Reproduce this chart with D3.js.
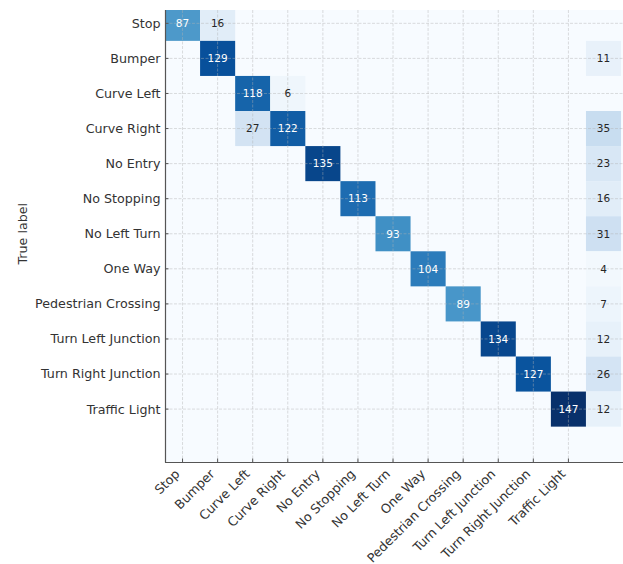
<!DOCTYPE html>
<html>
<head>
<meta charset="utf-8">
<script src="https://cdn.jsdelivr.net/npm/d3@7"></script>
<style>
  body { margin: 0; background: #fff; }
  text { font-family: "DejaVu Sans", sans-serif; }
</style>
</head>
<body>
<div id="chart"></div>
<script>
// class names (rows = true label, columns = predicted label; last column/row unlabeled)
var classes = ["Stop", "Bumper", "Curve Left", "Curve Right", "No Entry", "No Stopping",
  "No Left Turn", "One Way", "Pedestrian Crossing", "Turn Left Junction",
  "Turn Right Junction", "Traffic Light"];

// confusion counts, one row per true class, 13 columns (12 classes + background)
var matrix = [
  [87, 16, 0, 0, 0, 0, 0, 0, 0, 0, 0, 0, 0],
  [0, 129, 0, 0, 0, 0, 0, 0, 0, 0, 0, 0, 11],
  [0, 0, 118, 6, 0, 0, 0, 0, 0, 0, 0, 0, 0],
  [0, 0, 27, 122, 0, 0, 0, 0, 0, 0, 0, 0, 35],
  [0, 0, 0, 0, 135, 0, 0, 0, 0, 0, 0, 0, 23],
  [0, 0, 0, 0, 0, 113, 0, 0, 0, 0, 0, 0, 16],
  [0, 0, 0, 0, 0, 0, 93, 0, 0, 0, 0, 0, 31],
  [0, 0, 0, 0, 0, 0, 0, 104, 0, 0, 0, 0, 4],
  [0, 0, 0, 0, 0, 0, 0, 0, 89, 0, 0, 0, 7],
  [0, 0, 0, 0, 0, 0, 0, 0, 0, 134, 0, 0, 12],
  [0, 0, 0, 0, 0, 0, 0, 0, 0, 0, 127, 0, 26],
  [0, 0, 0, 0, 0, 0, 0, 0, 0, 0, 0, 147, 12]
];
var nCols = 13, nRows = 13;

// matplotlib-style "Blues" ramp (linear between the 9 brewer stops)
var blues = ["#f7fbff", "#deebf7", "#c6dbef", "#9ecae1", "#6baed6",
  "#4292c6", "#2171b5", "#08519c", "#08306b"];

var width = 623, height = 564;
var plotLeft = 165, plotRight = 623, plotTop = 10, plotBottom = 462;

var x = d3.scaleLinear().domain([-0.5, nCols - 0.5]).range([plotLeft, plotLeft + 35.08 * nCols]);
var y = d3.scaleLinear().domain([-0.5, nRows - 0.5]).range([5.8, 5.8 + 35.07 * nRows]);

var vmax = d3.max(matrix, function (r) { return d3.max(r); });
var color = d3.scaleLinear()
  .domain(blues.map(function (c, i) { return vmax * i / (blues.length - 1); }))
  .range(blues)
  .interpolate(d3.interpolateRgb);

var svg = d3.select("#chart").append("svg")
  .attr("width", width)
  .attr("height", height);

svg.append("clipPath").attr("id", "plotclip")
  .append("rect")
  .attr("x", plotLeft).attr("y", plotTop)
  .attr("width", plotRight - plotLeft).attr("height", plotBottom - plotTop);

var plot = svg.append("g").attr("clip-path", "url(#plotclip)");

plot.append("rect")
  .attr("x", plotLeft).attr("y", plotTop)
  .attr("width", plotRight - plotLeft).attr("height", plotBottom - plotTop)
  .attr("fill", color(0));

var cells = [];
matrix.forEach(function (row, i) {
  row.forEach(function (v, j) {
    if (v > 0) cells.push({ row: i, col: j, value: v });
  });
});

plot.selectAll("rect.cell")
  .data(cells)
  .enter()
  .append("rect")
  .attr("class", "cell")
  .attr("x", function (d) { return x(d.col - 0.5); })
  .attr("y", function (d) { return y(d.row - 0.5); })
  .attr("width", function (d) { return x(d.col + 0.5) - x(d.col - 0.5); })
  .attr("height", function (d) { return y(d.row + 0.5) - y(d.row - 0.5); })
  .attr("fill", function (d) { return color(d.value); });

// dashed grid on top of the cells
var ticks = d3.range(classes.length);
plot.selectAll("line.vgrid")
  .data(ticks)
  .enter()
  .append("line")
  .attr("class", "vgrid")
  .attr("x1", function (d) { return x(d); })
  .attr("x2", function (d) { return x(d); })
  .attr("y1", plotTop).attr("y2", plotBottom)
  .attr("stroke", "#b0b0b0")
  .attr("stroke-opacity", 0.55)
  .attr("stroke-width", 0.8)
  .attr("stroke-dasharray", "3,1.5");

plot.selectAll("line.hgrid")
  .data(ticks)
  .enter()
  .append("line")
  .attr("class", "hgrid")
  .attr("y1", function (d) { return y(d); })
  .attr("y2", function (d) { return y(d); })
  .attr("x1", plotLeft).attr("x2", plotRight)
  .attr("stroke", "#b0b0b0")
  .attr("stroke-opacity", 0.55)
  .attr("stroke-width", 0.8)
  .attr("stroke-dasharray", "3,1.5");

plot.selectAll("text.val")
  .data(cells)
  .enter()
  .append("text")
  .attr("class", "val")
  .attr("x", function (d) { return x(d.col); })
  .attr("y", function (d) { return y(d.row); })
  .attr("dy", "0.36em")
  .attr("text-anchor", "middle")
  .style("font-size", "10.5px")
  .attr("fill", function (d) { return d.value > vmax / 2 ? "#ffffff" : "#262626"; })
  .text(function (d) { return d.value; });

// spines
svg.append("line")
  .attr("x1", plotLeft + 0.5).attr("x2", plotLeft + 0.5)
  .attr("y1", plotTop).attr("y2", plotBottom + 0.5)
  .attr("stroke", "#555").attr("stroke-width", 1.2);
svg.append("line")
  .attr("x1", plotLeft).attr("x2", plotRight)
  .attr("y1", plotBottom + 0.5).attr("y2", plotBottom + 0.5)
  .attr("stroke", "#555").attr("stroke-width", 1.2);

// inward ticks
svg.selectAll("line.ytick")
  .data(ticks)
  .enter()
  .append("line")
  .attr("class", "ytick")
  .attr("x1", plotLeft).attr("x2", plotLeft + 3.5)
  .attr("y1", function (d) { return y(d); })
  .attr("y2", function (d) { return y(d); })
  .attr("stroke", "#555");
svg.selectAll("line.xtick")
  .data(ticks)
  .enter()
  .append("line")
  .attr("class", "xtick")
  .attr("x1", function (d) { return x(d); })
  .attr("x2", function (d) { return x(d); })
  .attr("y1", plotBottom).attr("y2", plotBottom - 3.5)
  .attr("stroke", "#555");

// tick labels
svg.selectAll("text.ylab")
  .data(classes)
  .enter()
  .append("text")
  .attr("class", "ylab")
  .attr("x", plotLeft - 4.5)
  .attr("y", function (d, i) { return y(i); })
  .attr("dy", "0.35em")
  .attr("text-anchor", "end")
  .style("font-size", "12.7px")
  .attr("fill", "#333")
  .text(function (d) { return d; });

svg.selectAll("text.xlab")
  .data(classes)
  .enter()
  .append("text")
  .attr("class", "xlab")
  .attr("transform", function (d, i) {
    return "translate(" + (x(i) - 2.1) + "," + (plotBottom + 12.7) + ") rotate(-45)";
  })
  .attr("text-anchor", "end")
  .style("font-size", "12.7px")
  .attr("fill", "#333")
  .text(function (d) { return d; });

svg.append("text")
  .attr("transform", "translate(27," + ((y(-0.5) + y(nRows - 0.5)) / 2) + ") rotate(-90)")
  .attr("text-anchor", "middle")
  .style("font-size", "12.7px")
  .attr("fill", "#333")
  .text("True label");
</script>
</body>
</html>
